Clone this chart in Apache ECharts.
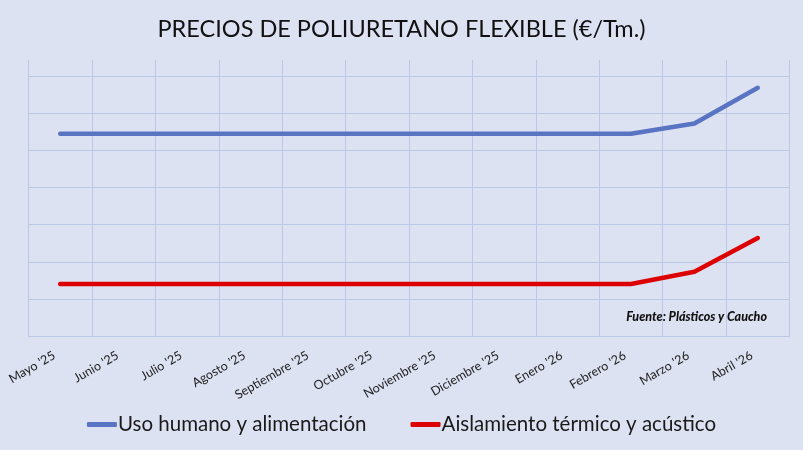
<!DOCTYPE html>
<html>
<head>
<meta charset="utf-8">
<script src="https://cdn.jsdelivr.net/npm/echarts@6/dist/echarts.min.js"></script>
<style>
html,body{margin:0;padding:0;background:#dde2f2;}
#c{width:803px;height:450px;}
</style>
</head>
<body>
<div id="c"></div>
<script>
const titleText = "PRECIOS DE POLIURETANO FLEXIBLE (€/Tm.)";
const sourceText = "Fuente: Plásticos y Caucho";
const categories = ["Mayo '25","Junio '25","Julio '25","Agosto '25","Septiembre '25","Octubre '25","Noviembre '25","Diciembre '25","Enero '26","Febrero '26","Marzo '26","Abril '26"];
const seriesNames = ["Uso humano y alimentación","Aislamiento térmico y acústico"];
const usoHumano = [5.45,5.45,5.45,5.45,5.45,5.45,5.45,5.45,5.45,5.45,5.73,6.69];
const aislamiento = [1.40,1.40,1.40,1.40,1.40,1.40,1.40,1.40,1.40,1.40,1.73,2.64];
const yMin = 0, yMax = 7.44, yInterval = 1;

const font = "Lato";
const gridColor = "#bcc7e6";
const chart = echarts.init(document.getElementById('c'));
chart.setOption({
  backgroundColor: "#dde2f2",
  animation: false,
  title: {
    text: titleText, left: "center", top: 12,
    textStyle: {fontFamily: font, fontSize: 23.5, fontWeight: "normal", color: "#111"}
  },
  legend: {
    bottom: 10, left: "center", itemGap: 44, itemWidth: 30, itemHeight: 5, icon: "roundRect",
    textStyle: {fontFamily: font, fontSize: 20.5, color: "#1a1a1a", padding: [0,0,0,-4]},
    data: seriesNames
  },
  grid: {left: 28.5, right: 13.5, top: 60, bottom: 114, containLabel: false},
  xAxis: {
    type: "category", data: categories, boundaryGap: true,
    axisLine: {show: true, lineStyle: {color: gridColor, width: 1}},
    axisTick: {show: false},
    splitLine: {show: true, interval: 0, lineStyle: {color: gridColor, width: 1}},
    axisLabel: {interval: 0, rotate: 30, margin: 15, padding: [0,7,0,0], fontFamily: font, fontSize: 12.5, color: "#222"}
  },
  yAxis: {
    type: "value", min: yMin, max: yMax, interval: yInterval,
    axisLabel: {show: false}, axisLine: {show: false}, axisTick: {show: false},
    splitLine: {show: true, showMaxLine: false, lineStyle: {color: gridColor, width: 1}}
  },
  graphic: [{
    type: "text", right: 36, top: 310,
    style: {text: sourceText, font: "italic 900 12.5px Lato", fill: "#111"}
  }],
  series: [
    {name: seriesNames[0], type: "line", data: usoHumano, symbol: "none", color: "#5a74c4",
     lineStyle: {width: 4.5, color: "#5a74c4", cap: "round", join: "round"}},
    {name: seriesNames[1], type: "line", data: aislamiento, symbol: "none", color: "#dc0000",
     lineStyle: {width: 4.5, color: "#dc0000", cap: "round", join: "round"}}
  ]
});
</script>
</body>
</html>
